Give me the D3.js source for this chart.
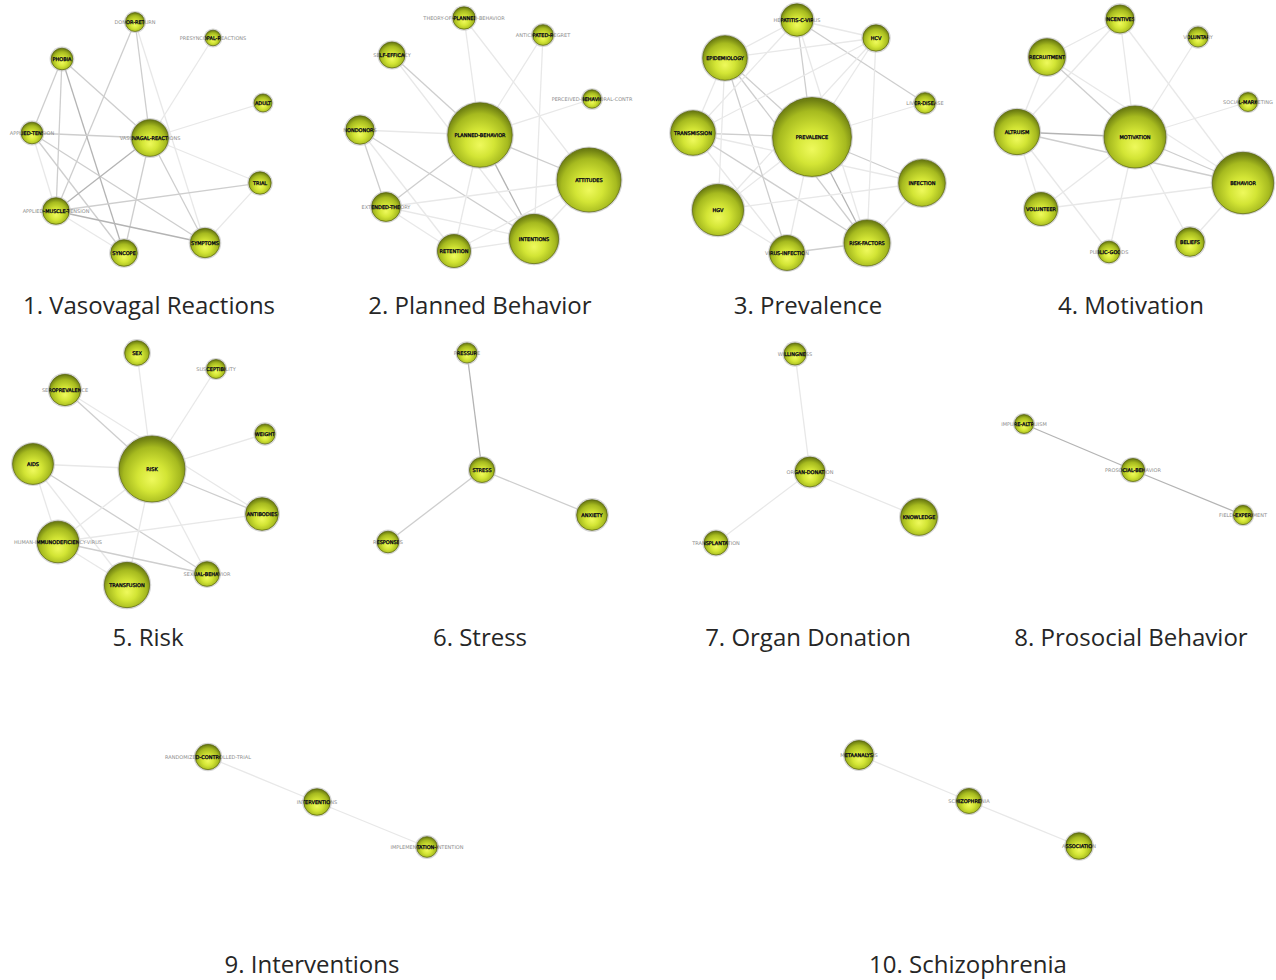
<!DOCTYPE html>
<html>
<head>
<meta charset="utf-8">
<script src="https://cdn.jsdelivr.net/npm/d3@7"></script>
<style>
  body { margin: 0; background: #fff; }
</style>
</head>
<body>
<div id="content"></div>
<script>
// ---- data ----
// panel titles
var panelTitles = ["1. Vasovagal Reactions", "2. Planned Behavior", "3. Prevalence", "4. Motivation",
  "5. Risk", "6. Stress", "7. Organ Donation", "8. Prosocial Behavior",
  "9. Interventions", "10. Schizophrenia"]

// nodes: [keyword, layout x, layout y, frequency]  (layout units: 300 x 280 per panel)
var vasovagalNodes = [
  ["DONOR-RETURN", 135, 22, 5.6], ["PRESYNCOPAL-REACTIONS", 213, 38, 3.8], ["PHOBIA", 62, 59, 7.3],
  ["ADULT", 263, 103, 5], ["APPLIED-TENSION", 32, 133, 7.3], ["VASOVAGAL-REACTIONS", 150, 138, 21],
  ["TRIAL", 260, 183, 7.8], ["APPLIED-MUSCLE-TENSION", 56, 211, 11], ["SYNCOPE", 124, 253, 11],
  ["SYMPTOMS", 205, 243, 13.5]]
// links: [source, target, strength 1..3]
var vasovagalLinks = [
  ["DONOR-RETURN", "VASOVAGAL-REACTIONS", 2], ["DONOR-RETURN", "APPLIED-MUSCLE-TENSION", 2],
  ["DONOR-RETURN", "SYMPTOMS", 1], ["PRESYNCOPAL-REACTIONS", "VASOVAGAL-REACTIONS", 1],
  ["PHOBIA", "APPLIED-TENSION", 2], ["PHOBIA", "APPLIED-MUSCLE-TENSION", 2], ["PHOBIA", "SYNCOPE", 3],
  ["PHOBIA", "VASOVAGAL-REACTIONS", 2], ["ADULT", "VASOVAGAL-REACTIONS", 1],
  ["APPLIED-TENSION", "VASOVAGAL-REACTIONS", 2], ["APPLIED-TENSION", "APPLIED-MUSCLE-TENSION", 1],
  ["APPLIED-TENSION", "SYNCOPE", 2], ["APPLIED-TENSION", "SYMPTOMS", 2],
  ["VASOVAGAL-REACTIONS", "TRIAL", 1], ["VASOVAGAL-REACTIONS", "APPLIED-MUSCLE-TENSION", 3],
  ["VASOVAGAL-REACTIONS", "SYNCOPE", 2], ["VASOVAGAL-REACTIONS", "SYMPTOMS", 2],
  ["TRIAL", "APPLIED-MUSCLE-TENSION", 2], ["TRIAL", "SYMPTOMS", 1],
  ["APPLIED-MUSCLE-TENSION", "SYNCOPE", 1], ["APPLIED-MUSCLE-TENSION", "SYMPTOMS", 3]]

var plannedNodes = [
  ["THEORY-OF-PLANNED-BEHAVIOR", 144, 18, 7.8], ["ANTICIPATED-REGRET", 223, 35, 6.7], ["SELF-EFFICACY", 72, 55, 10.6],
  ["PERCEIVED-BEHAVIORAL-CONTR", 272, 99, 5.3], ["NONDONORS", 40, 130, 12.6], ["PLANNED-BEHAVIOR", 160, 135, 65],
  ["ATTITUDES", 269, 180, 64], ["EXTENDED-THEORY", 66, 207, 13], ["RETENTION", 134, 251, 17],
  ["INTENTIONS", 214, 239, 38]]
var plannedLinks = [
  ["THEORY-OF-PLANNED-BEHAVIOR", "PLANNED-BEHAVIOR", 1], ["THEORY-OF-PLANNED-BEHAVIOR", "ATTITUDES", 1],
  ["ANTICIPATED-REGRET", "PLANNED-BEHAVIOR", 1], ["ANTICIPATED-REGRET", "INTENTIONS", 1],
  ["SELF-EFFICACY", "PLANNED-BEHAVIOR", 2], ["SELF-EFFICACY", "INTENTIONS", 1],
  ["PERCEIVED-BEHAVIORAL-CONTR", "PLANNED-BEHAVIOR", 1], ["NONDONORS", "PLANNED-BEHAVIOR", 1],
  ["NONDONORS", "EXTENDED-THEORY", 2], ["NONDONORS", "INTENTIONS", 2], ["NONDONORS", "RETENTION", 1],
  ["PLANNED-BEHAVIOR", "EXTENDED-THEORY", 2], ["PLANNED-BEHAVIOR", "RETENTION", 1],
  ["PLANNED-BEHAVIOR", "INTENTIONS", 3], ["PLANNED-BEHAVIOR", "ATTITUDES", 2],
  ["ATTITUDES", "INTENTIONS", 1], ["ATTITUDES", "EXTENDED-THEORY", 1], ["ATTITUDES", "RETENTION", 1],
  ["EXTENDED-THEORY", "RETENTION", 1], ["EXTENDED-THEORY", "INTENTIONS", 1], ["RETENTION", "INTENTIONS", 1]]

var prevalenceNodes = [
  ["HEPATITIS-C-VIRUS", 147, 20, 16.3], ["HCV", 226, 38, 10.8], ["EPIDEMIOLOGY", 75, 58, 31],
  ["LIVER-DISEASE", 275, 103, 6.7], ["TRANSMISSION", 43, 133, 31], ["PREVALENCE", 162, 137, 97],
  ["INFECTION", 272, 183, 34], ["HGV", 68, 210, 41], ["VIRUS-INFECTION", 137, 253, 19],
  ["RISK-FACTORS", 217, 243, 33]]
var prevalenceLinks = [
  ["PREVALENCE", "HEPATITIS-C-VIRUS", 2], ["PREVALENCE", "HCV", 1], ["PREVALENCE", "EPIDEMIOLOGY", 2],
  ["PREVALENCE", "LIVER-DISEASE", 1], ["PREVALENCE", "TRANSMISSION", 2], ["PREVALENCE", "INFECTION", 2],
  ["PREVALENCE", "HGV", 1], ["PREVALENCE", "VIRUS-INFECTION", 1], ["PREVALENCE", "RISK-FACTORS", 3],
  ["EPIDEMIOLOGY", "HEPATITIS-C-VIRUS", 1], ["EPIDEMIOLOGY", "HCV", 1], ["EPIDEMIOLOGY", "TRANSMISSION", 1],
  ["EPIDEMIOLOGY", "VIRUS-INFECTION", 2], ["EPIDEMIOLOGY", "RISK-FACTORS", 2], ["EPIDEMIOLOGY", "HGV", 1],
  ["HEPATITIS-C-VIRUS", "HCV", 1], ["HEPATITIS-C-VIRUS", "LIVER-DISEASE", 2],
  ["HEPATITIS-C-VIRUS", "TRANSMISSION", 1], ["HEPATITIS-C-VIRUS", "RISK-FACTORS", 1],
  ["HCV", "RISK-FACTORS", 1], ["HCV", "TRANSMISSION", 1], ["HCV", "HGV", 1],
  ["TRANSMISSION", "INFECTION", 1], ["TRANSMISSION", "RISK-FACTORS", 2], ["TRANSMISSION", "VIRUS-INFECTION", 1],
  ["HGV", "VIRUS-INFECTION", 1], ["HGV", "INFECTION", 1], ["VIRUS-INFECTION", "RISK-FACTORS", 2],
  ["INFECTION", "RISK-FACTORS", 1]]

var motivationNodes = [
  ["INCENTIVES", 160, 19, 12.3], ["VOLUNTARY", 238, 37, 6.3], ["RECRUITMENT", 87, 57, 21],
  ["SOCIAL-MARKETING", 288, 102, 5.6], ["ALTRUISM", 57, 132, 32], ["MOTIVATION", 175, 137, 60],
  ["BEHAVIOR", 283, 183, 59], ["VOLUNTEER", 81, 209, 17], ["PUBLIC-GOODS", 149, 252, 7.3],
  ["BELIEFS", 230, 242, 12.8]]
var motivationLinks = [
  ["INCENTIVES", "RECRUITMENT", 1], ["INCENTIVES", "ALTRUISM", 1], ["INCENTIVES", "MOTIVATION", 1],
  ["INCENTIVES", "BEHAVIOR", 1], ["VOLUNTARY", "MOTIVATION", 1], ["RECRUITMENT", "MOTIVATION", 2],
  ["RECRUITMENT", "BEHAVIOR", 1], ["RECRUITMENT", "ALTRUISM", 1], ["SOCIAL-MARKETING", "MOTIVATION", 1],
  ["ALTRUISM", "MOTIVATION", 3], ["ALTRUISM", "BEHAVIOR", 2], ["ALTRUISM", "PUBLIC-GOODS", 1],
  ["ALTRUISM", "VOLUNTEER", 1], ["MOTIVATION", "BEHAVIOR", 2], ["MOTIVATION", "VOLUNTEER", 1],
  ["MOTIVATION", "PUBLIC-GOODS", 1], ["MOTIVATION", "BELIEFS", 1], ["BEHAVIOR", "VOLUNTEER", 1],
  ["BEHAVIOR", "BELIEFS", 1]]

var riskNodes = [
  ["SEX", 137, 23, 9.5], ["SUSCEPTIBILITY", 216, 39, 5.6], ["SEROPREVALENCE", 65, 60, 15.3],
  ["WEIGHT", 265, 104, 6.3], ["AIDS", 33, 134, 26], ["RISK", 152, 139, 68],
  ["ANTIBODIES", 262, 184, 16.7], ["HUMAN-IMMUNODEFICIENCY-VIRUS", 58, 212, 27], ["TRANSFUSION", 127, 255, 32],
  ["SEXUAL-BEHAVIOR", 207, 244, 9.5]]
var riskLinks = [
  ["SEX", "RISK", 1], ["SUSCEPTIBILITY", "RISK", 1], ["SEROPREVALENCE", "RISK", 2],
  ["SEROPREVALENCE", "ANTIBODIES", 1], ["WEIGHT", "RISK", 1], ["AIDS", "RISK", 1],
  ["AIDS", "SEXUAL-BEHAVIOR", 2], ["AIDS", "HUMAN-IMMUNODEFICIENCY-VIRUS", 1], ["AIDS", "TRANSFUSION", 1],
  ["RISK", "ANTIBODIES", 2], ["RISK", "HUMAN-IMMUNODEFICIENCY-VIRUS", 1], ["RISK", "TRANSFUSION", 1],
  ["RISK", "SEXUAL-BEHAVIOR", 1], ["HUMAN-IMMUNODEFICIENCY-VIRUS", "ANTIBODIES", 1],
  ["HUMAN-IMMUNODEFICIENCY-VIRUS", "SEXUAL-BEHAVIOR", 2], ["HUMAN-IMMUNODEFICIENCY-VIRUS", "TRANSFUSION", 1]]

var stressNodes = [["PRESSURE", 137, 23, 6.3], ["STRESS", 152, 140, 9.8], ["ANXIETY", 262, 185, 14.7],
  ["RESPONSES", 58, 212, 7.3]]
var stressLinks = [["PRESSURE", "STRESS", 3], ["STRESS", "ANXIETY", 2], ["STRESS", "RESPONSES", 2]]

var organNodes = [["WILLINGNESS", 135, 24, 7.6], ["ORGAN-DONATION", 150, 142, 14], ["KNOWLEDGE", 259, 187, 21],
  ["TRANSPLANTATION", 56, 213, 9]]
var organLinks = [["WILLINGNESS", "ORGAN-DONATION", 1], ["ORGAN-DONATION", "KNOWLEDGE", 1],
  ["ORGAN-DONATION", "TRANSPLANTATION", 1]]

var prosocialNodes = [["IMPURE-ALTRUISM", 64, 94, 5.6], ["PROSOCIAL-BEHAVIOR", 173, 140, 8.3],
  ["FIELD-EXPERIMENT", 283, 185, 5.8]]
var prosocialLinks = [["IMPURE-ALTRUISM", "PROSOCIAL-BEHAVIOR", 3], ["PROSOCIAL-BEHAVIOR", "FIELD-EXPERIMENT", 3]]

var interventionNodes = [["RANDOMIZED-CONTROLLED-TRIAL", 58, 27, 10], ["INTERVENTIONS", 167, 72, 11],
  ["IMPLEMENTATION-INTENTION", 277, 117, 6.7]]
var interventionLinks = [["RANDOMIZED-CONTROLLED-TRIAL", "INTERVENTIONS", 1],
  ["INTERVENTIONS", "IMPLEMENTATION-INTENTION", 1]]

var schizoNodes = [["METAANALYSIS", 39, 25, 13], ["SCHIZOPHRENIA", 149, 71, 9.8], ["ASSOCIATION", 259, 116, 11]]
var schizoLinks = [["METAANALYSIS", "SCHIZOPHRENIA", 1], ["SCHIZOPHRENIA", "ASSOCIATION", 1]]

// ---- layout (where each panel sits on the page) ----
var panelOrigins = [[0, 0], [320, 0], [650, 0], [960, 0], [0, 330], [330, 330], [660, 330], [960, 330],
  [150, 730], [820, 730]]
var titleCenters = [[149, 314], [480, 314], [808, 314], [1131, 314], [148, 646], [480, 646], [808, 646],
  [1131, 646], [312, 973], [968, 973]]

var nodeLists = [vasovagalNodes, plannedNodes, prevalenceNodes, motivationNodes, riskNodes,
  stressNodes, organNodes, prosocialNodes, interventionNodes, schizoNodes]
var linkLists = [vasovagalLinks, plannedLinks, prevalenceLinks, motivationLinks, riskLinks,
  stressLinks, organLinks, prosocialLinks, interventionLinks, schizoLinks]

var svgwidth = 1276
var svgheight = 980

var svg = d3.select("#content").append("svg")
  .attr("width", svgwidth)
  .attr("height", svgheight)

var defs = svg.append("defs")

// shaded ball look
var grad = defs.append("radialGradient")
  .attr("id", "ball")
  .attr("cx", "50%").attr("cy", "58%").attr("r", "55%")
  .attr("fx", "50%").attr("fy", "66%")
var stops = [[0, "#eef95c"], [0.4, "#d3e535"], [0.78, "#a6ba1f"], [1, "#6f8012"]]
stops.forEach(function(s) {
  grad.append("stop").attr("offset", s[0]).attr("stop-color", s[1])
})

var rScale = d3.scaleSqrt().domain([0, 100]).range([0, 40])
var linkColor = d3.scaleLinear().domain([1, 3]).range(["#e8e8e8", "#b4b4b4"])
var clipCount = 0

drawPanel = function(idx) {
  var ox = panelOrigins[idx][0], oy = panelOrigins[idx][1]
  var x = d3.scaleLinear().domain([0, 300]).range([ox, ox + 300])
  var y = d3.scaleLinear().domain([0, 280]).range([oy, oy + 280])
  var nodes = nodeLists[idx]
  var links = linkLists[idx]
  var byName = {}
  nodes.forEach(function(n) { byName[n[0]] = n })

  var g = svg.append("g").attr("class", "panel")

  // links first
  g.selectAll("line.link")
    .data(links)
    .enter().append("line")
    .attr("class", "link")
    .attr("x1", function(d) { return x(byName[d[0]][1]) })
    .attr("y1", function(d) { return y(byName[d[0]][2]) })
    .attr("x2", function(d) { return x(byName[d[1]][1]) })
    .attr("y2", function(d) { return y(byName[d[1]][2]) })
    .attr("stroke", function(d) { return linkColor(d[2]) })
    .attr("stroke-width", 1.3)

  var node = g.selectAll("g.node")
    .data(nodes)
    .enter().append("g")
    .attr("class", "node")
    .attr("transform", function(d) { return "translate(" + x(d[1]) + "," + y(d[2]) + ")" })

  // soft halo
  node.append("circle")
    .attr("r", function(d) { return rScale(d[3]) + 1.6 })
    .attr("fill", "#c4c4c4")
    .attr("opacity", 0.7)
  node.append("circle")
    .attr("r", function(d) { return rScale(d[3]) })
    .attr("fill", "url(#ball)")
    .attr("stroke", "#56620e")
    .attr("stroke-width", 0.7)

  // labels: grey outside the ball, black inside
  node.append("text")
    .attr("text-anchor", "middle")
    .attr("dy", "0.35em")
    .style("font-family", "DejaVu Sans")
    .style("font-size", "5px")
    .attr("fill", "#8c8c8c")
    .text(function(d) { return d[0] })

  node.each(function(d) {
    var id = "clip" + (clipCount++)
    defs.append("clipPath").attr("id", id)
      .append("circle").attr("r", rScale(d[3]))
    d3.select(this).append("text")
      .attr("clip-path", "url(#" + id + ")")
      .attr("text-anchor", "middle")
      .attr("dy", "0.35em")
      .style("font-family", "DejaVu Sans")
      .style("font-size", "5px")
      .attr("fill", "#000")
      .attr("stroke", "#000")
      .attr("stroke-width", 0.25)
      .text(d[0])
  })

  // title
  svg.append("text")
    .attr("x", titleCenters[idx][0])
    .attr("y", titleCenters[idx][1])
    .attr("text-anchor", "middle")
    .attr("fill", "#262626")
    .style("font-family", "Open Sans")
    .style("font-size", "24px")
    .text(panelTitles[idx])
}

for (var i = 0; i < panelTitles.length; i++) {
  drawPanel(i)
}
</script>
</body>
</html>
